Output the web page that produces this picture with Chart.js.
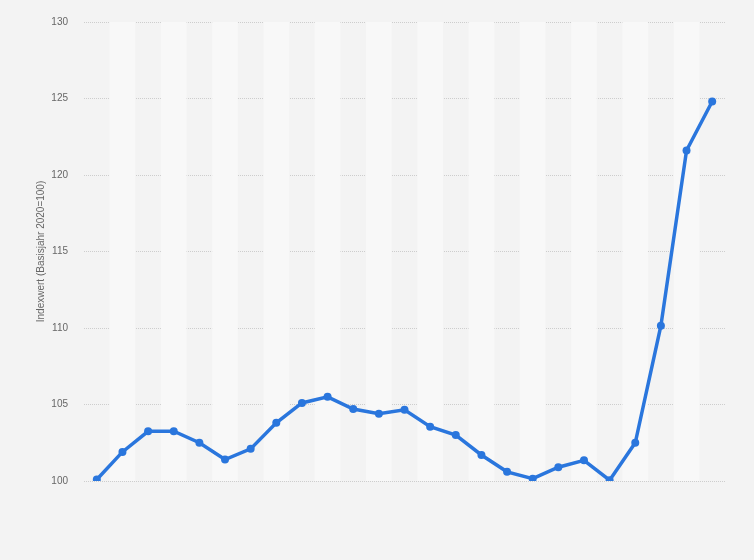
<!DOCTYPE html>
<html lang="de">
<head>
    <meta charset="UTF-8" />
    <title>Indexwert</title>
    <style>
        html, body {
            margin: 0;
            padding: 0;
            background: #f3f3f3;
        }
        .chart-box {
            width: 754px;
            height: 560px;
        }
    </style>
</head>
<body>
    <div class="chart-box">
        <canvas id="lineChart" width="754" height="560"></canvas>
    </div>

    <script src="https://cdn.jsdelivr.net/npm/chart.js"></script>
    <script>
        // Jahre (auf der Achse nicht beschriftet)
        const years = ['2000', '2001', '2002', '2003', '2004', '2005', '2006', '2007', '2008', '2009',
            '2010', '2011', '2012', '2013', '2014', '2015', '2016', '2017', '2018', '2019',
            '2020', '2021', '2022', '2023', '2024'];
        const indexValues = [100.1, 101.9, 103.25, 103.25, 102.5, 101.4, 102.1, 103.8, 105.1, 105.5,
            104.7, 104.4, 104.65, 103.55, 103.0, 101.7, 100.6, 100.15, 100.9, 101.35,
            100.05, 102.5, 110.15, 121.6, 124.8];
        const yTicks = [100, 105, 110, 115, 120, 125, 130];
        const yTitle = 'Indexwert (Basisjahr 2020=100)';

        // helle Streifen hinter jeder zweiten Kategorie
        const stripePlugin = {
            id: 'stripes',
            beforeDatasetsDraw(chart) {
                const { ctx, chartArea, scales } = chart;
                const x = scales.x;
                const half = (x.getPixelForValue(1) - x.getPixelForValue(0)) / 2;
                ctx.save();
                ctx.fillStyle = '#f8f8f8';
                for (let i = 1; i < years.length; i += 2) {
                    const cx = x.getPixelForValue(i);
                    ctx.fillRect(cx - half, chartArea.top, half * 2, chartArea.bottom - chartArea.top);
                }
                ctx.restore();
            }
        };

        const ctx = document.getElementById('lineChart').getContext('2d');
        new Chart(ctx, {
            type: 'line',
            data: {
                labels: years,
                datasets: [{
                    label: yTitle,
                    data: indexValues,
                    borderColor: '#2a76dd',
                    backgroundColor: '#2a76dd',
                    borderWidth: 3.5,
                    pointRadius: 4,
                    pointBorderWidth: 0,
                    tension: 0,
                }]
            },
            options: {
                responsive: false,
                animation: false,
                layout: {
                    padding: { top: 18, right: 29, bottom: 79, left: 0 }
                },
                plugins: {
                    legend: { display: false },
                    tooltip: { enabled: false },
                },
                scales: {
                    x: {
                        display: false,
                        offset: true,
                    },
                    y: {
                        min: 100,
                        max: 130,
                        afterFit: (s) => { s.width = 84; },
                        afterBuildTicks: (s) => { s.ticks = yTicks.map(v => ({ value: v })); },
                        grid: {
                            color: '#cdcdcd',
                            drawTicks: false,
                        },
                        border: { display: false, dash: [1, 1] },
                        ticks: {
                            color: '#666',
                            padding: 16,
                            font: { family: 'Liberation Sans, Arial, sans-serif', size: 10 },
                        },
                        title: {
                            display: true,
                            text: yTitle,
                            color: '#666',
                            padding: { top: 35, bottom: 0 },
                            font: { family: 'Liberation Sans, Arial, sans-serif', size: 10 },
                        }
                    }
                }
            },
            plugins: [stripePlugin]
        });
    </script>
</body>
</html>
